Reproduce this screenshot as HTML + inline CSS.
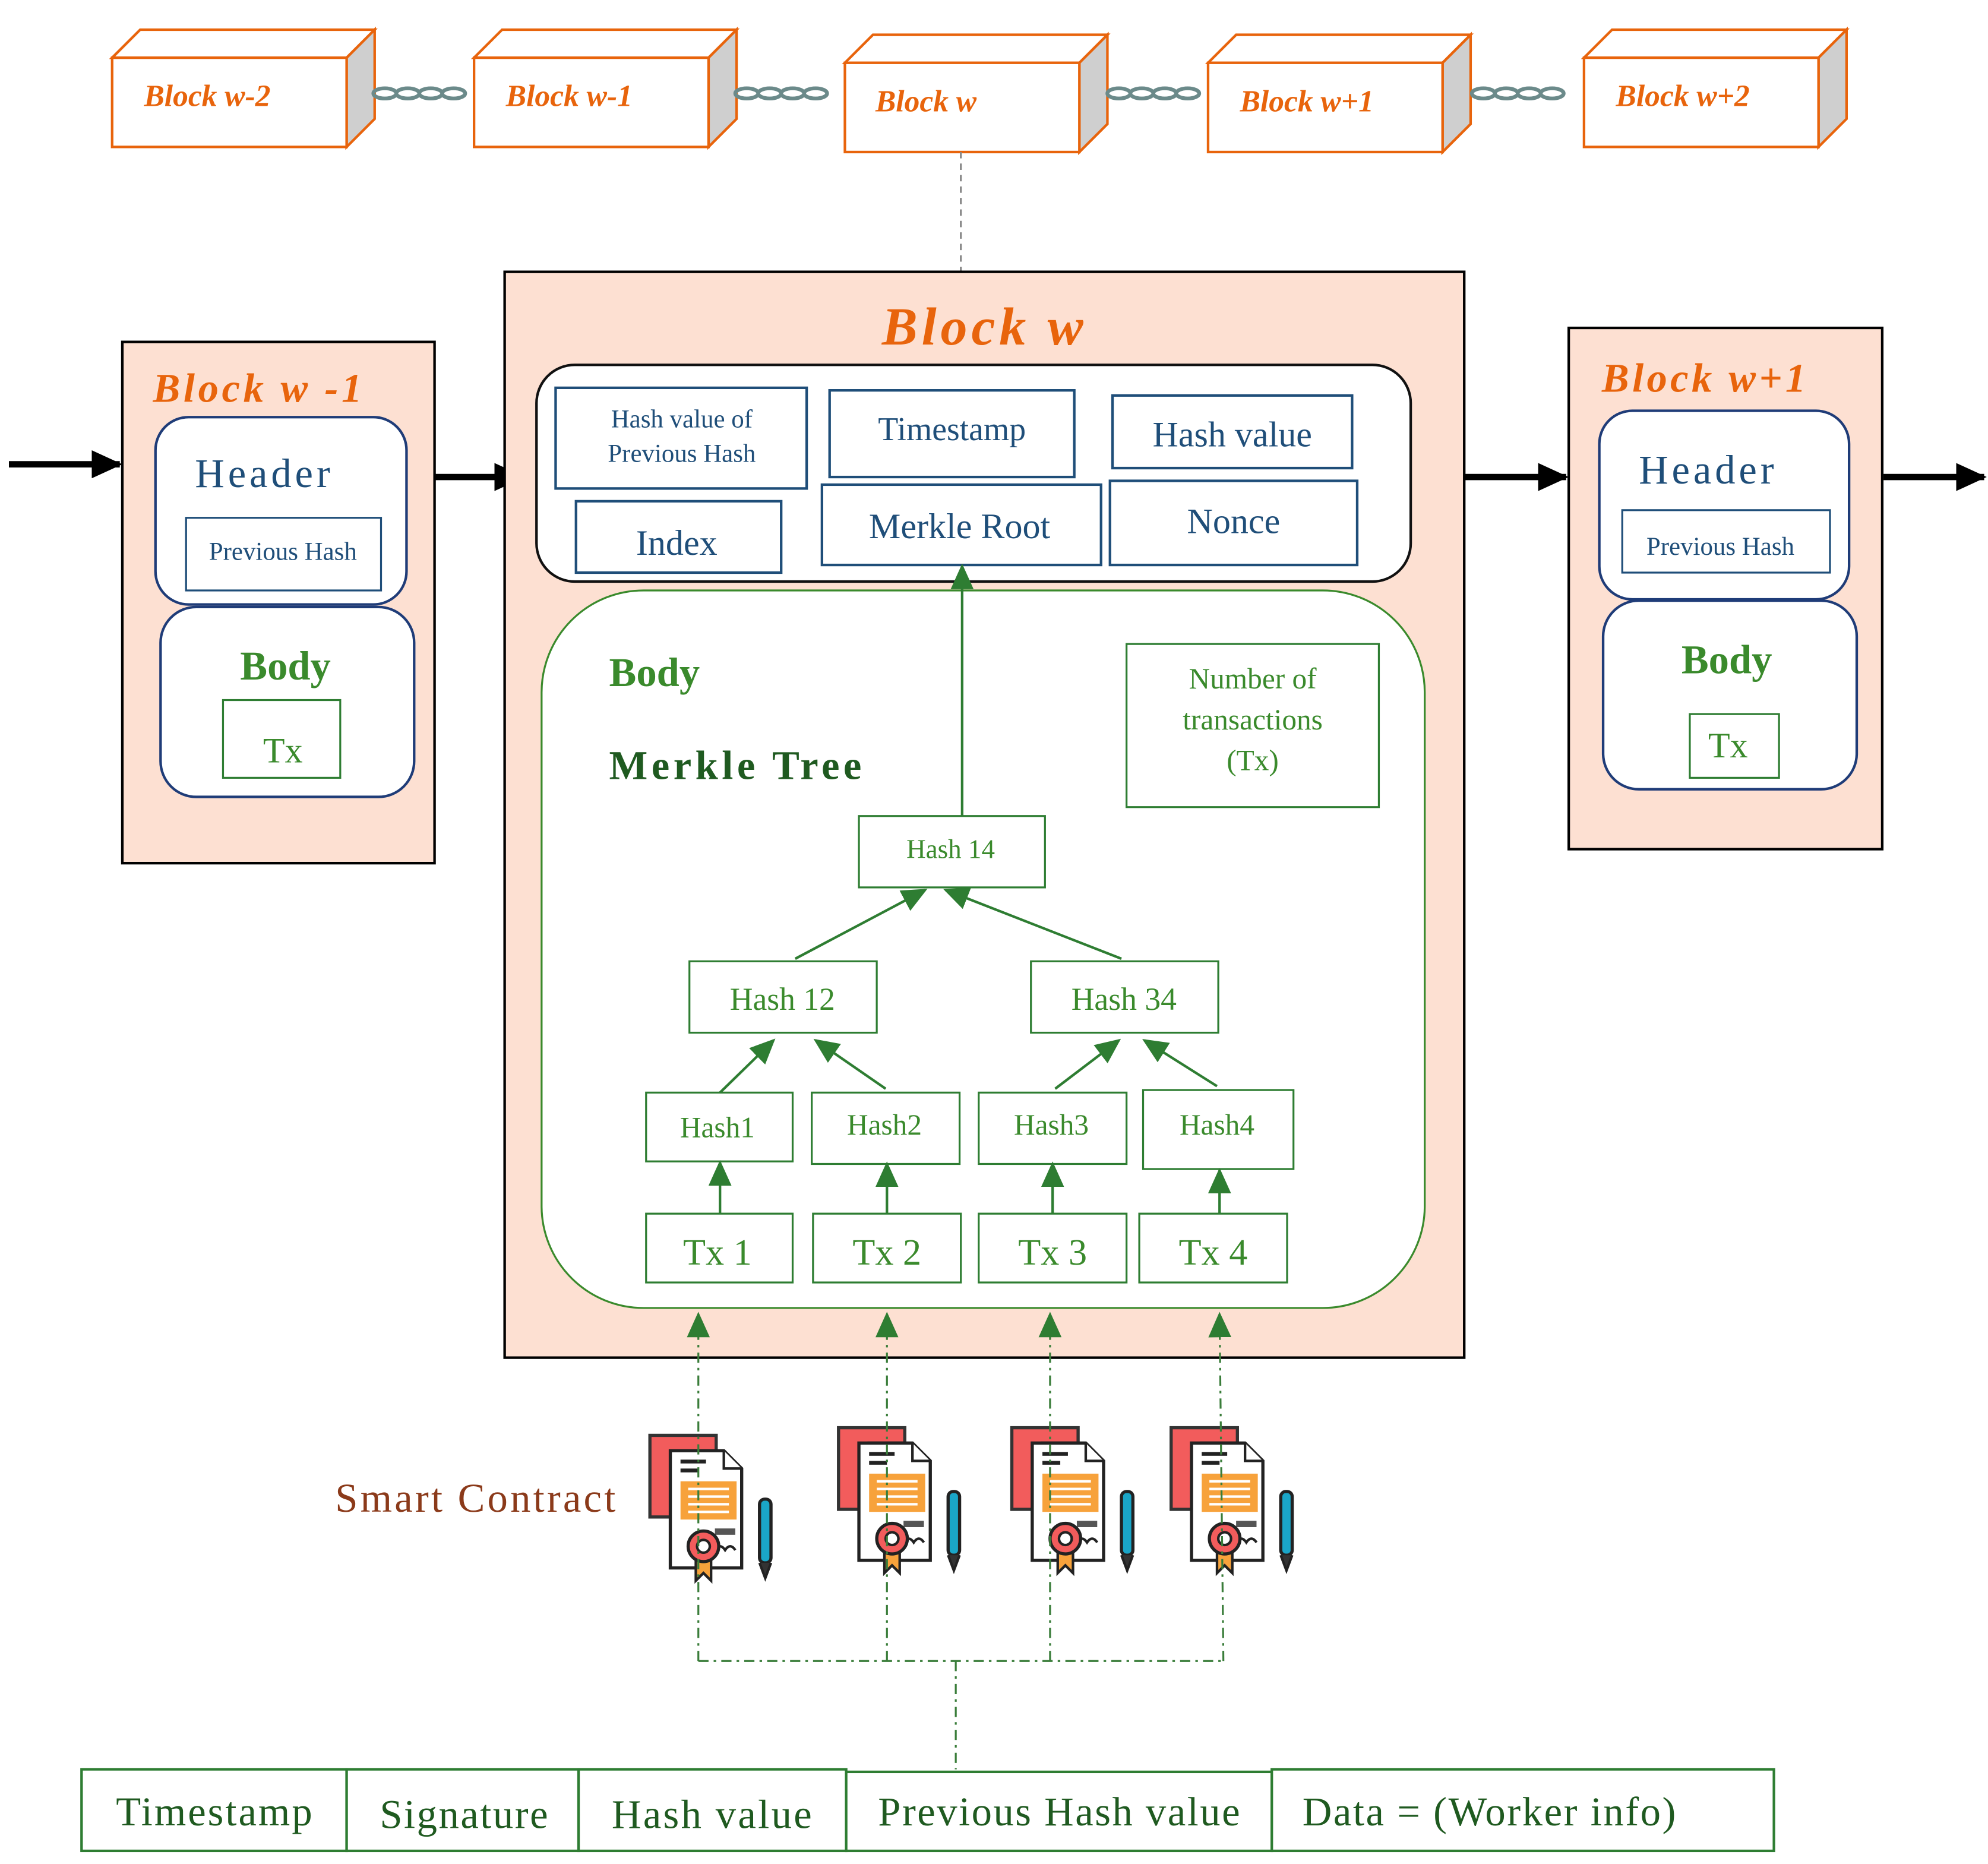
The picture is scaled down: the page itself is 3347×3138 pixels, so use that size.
<!DOCTYPE html>
<html><head><meta charset="utf-8"><style>html,body{margin:0;padding:0;background:#fff}svg{display:block}</style></head>
<body>
<svg width="3347" height="3138" viewBox="0 0 1560 1462" xmlns="http://www.w3.org/2000/svg" font-family="Liberation Serif, serif">
<defs>
<marker id="ag" markerWidth="20" markerHeight="18" refX="18" refY="9" orient="auto" markerUnits="userSpaceOnUse"><path d="M0,0 L20,9 L0,18 z" fill="#2e7d32"/></marker>
<marker id="ak" markerWidth="24" markerHeight="22" refX="22" refY="11" orient="auto" markerUnits="userSpaceOnUse"><path d="M0,0 L24,11 L0,22 z" fill="#000"/></marker>
<g id="blk">
<path d="M0,22 L22,0 L206,0 L184,22 z" fill="#fff" stroke="#e8640c" stroke-width="2"/>
<path d="M184,22 L206,0 L206,70 L184,92 z" fill="#cfcfcf" stroke="#e8640c" stroke-width="2"/>
<rect x="0" y="22" width="184" height="70" fill="#fff" stroke="#e8640c" stroke-width="2"/>
</g>
<g id="chain" fill="none" stroke="#6b8a8a" stroke-width="3">
<ellipse cx="10" cy="0" rx="9" ry="4"/><ellipse cx="28" cy="0" rx="9" ry="4"/><ellipse cx="46" cy="0" rx="9" ry="4"/><ellipse cx="64" cy="0" rx="9" ry="4"/>
</g>
<g id="ico">
<path d="M4,4 L56,4 L56,16 L28,16 L28,68 L4,68 z" fill="#f25c5c" stroke="#333" stroke-width="2.5"/>
<path d="M20,16 L62,16 L76,30 L76,108 L20,108 z" fill="#fff" stroke="#222" stroke-width="2.5"/>
<path d="M62,16 L62,30 L76,30" fill="#fff" stroke="#222" stroke-width="2"/>
<rect x="28" y="23" width="20" height="3" fill="#222"/><rect x="28" y="30" width="14" height="3" fill="#222"/>
<rect x="28" y="40" width="44" height="30" fill="#f7a23b"/>
<g stroke="#fff" stroke-width="2"><line x1="34" y1="46" x2="66" y2="46"/><line x1="34" y1="52" x2="66" y2="52"/><line x1="34" y1="58" x2="66" y2="58"/><line x1="34" y1="64" x2="66" y2="64"/></g>
<rect x="55" y="77" width="16" height="5" fill="#555"/><path d="M55,94 q4,-6 8,0 q4,-6 8,0" fill="none" stroke="#222" stroke-width="2"/>
<path d="M40,100 L40,118 L46,112 L52,118 L52,100 z" fill="#f7a23b" stroke="#222" stroke-width="2"/>
<circle cx="46" cy="91" r="12" fill="#f25c5c" stroke="#222" stroke-width="2.5"/><circle cx="46" cy="91" r="5" fill="#fff" stroke="#222" stroke-width="2"/>
<rect x="90" y="54" width="9" height="50" rx="4" fill="#1aa6c8" stroke="#222" stroke-width="2.5"/>
<path d="M90,104 L94.5,116 L99,104" fill="#333" stroke="#222" stroke-width="2"/>
</g>
</defs>

<use href="#blk" x="88" y="23"/>
<use href="#blk" x="372" y="23"/>
<use href="#blk" x="663" y="27"/>
<use href="#blk" x="948" y="27"/>
<use href="#blk" x="1243" y="23"/>
<use href="#chain" x="292" y="73"/>
<use href="#chain" x="576" y="73"/>
<use href="#chain" x="868" y="73"/>
<use href="#chain" x="1154" y="73"/>
<g fill="#e8640c" font-style="italic" font-weight="bold" font-size="24">
<text x="113" y="83">Block w-2</text><text x="397" y="83">Block w-1</text><text x="687" y="87">Block w</text><text x="973" y="87">Block w+1</text><text x="1268" y="83">Block w+2</text>
</g>
<line x1="754" y1="119" x2="754" y2="212" stroke="#888" stroke-width="1.5" stroke-dasharray="5,4"/>

<g stroke="#000" stroke-width="5">
<line x1="7" y1="364" x2="94" y2="364" marker-end="url(#ak)"/>
<line x1="341" y1="374" x2="410" y2="374" marker-end="url(#ak)"/>
<line x1="1107" y1="374" x2="1229" y2="374" marker-end="url(#ak)"/>
<line x1="1478" y1="374" x2="1557" y2="374" marker-end="url(#ak)"/>
</g>

<rect x="96" y="268" width="245" height="409" fill="#fde0d2" stroke="#000" stroke-width="2"/>
<text x="120" y="315" fill="#e8640c" font-style="italic" font-weight="bold" font-size="32" textLength="164">Block w -1</text>
<rect x="122" y="327" width="197" height="147" rx="26" fill="#fff" stroke="#1f3c78" stroke-width="2"/>
<text x="153" y="382" fill="#1f4e79" font-size="32" textLength="106">Header</text>
<rect x="146" y="406" width="153" height="57" fill="#fff" stroke="#1f4e79" stroke-width="1.5"/>
<text x="222" y="439" fill="#1f4e79" font-size="20" text-anchor="middle">Previous Hash</text>
<rect x="126" y="476" width="199" height="149" rx="28" fill="#fff" stroke="#1f3c78" stroke-width="2"/>
<text x="224" y="533" fill="#3a8a2c" font-weight="bold" font-size="32" text-anchor="middle">Body</text>
<rect x="175" y="549" width="92" height="61" fill="#fff" stroke="#2e7d32" stroke-width="1.5"/>
<text x="222" y="598" fill="#3a8a2c" font-size="28" text-anchor="middle">Tx</text>

<rect x="1231" y="257" width="246" height="409" fill="#fde0d2" stroke="#000" stroke-width="2"/>
<text x="1257" y="307" fill="#e8640c" font-style="italic" font-weight="bold" font-size="32" textLength="160">Block w+1</text>
<rect x="1255" y="322" width="196" height="148" rx="26" fill="#fff" stroke="#1f3c78" stroke-width="2"/>
<text x="1286" y="379" fill="#1f4e79" font-size="32" textLength="106">Header</text>
<rect x="1273" y="400" width="163" height="49" fill="#fff" stroke="#1f4e79" stroke-width="1.5"/>
<text x="1350" y="435" fill="#1f4e79" font-size="20" text-anchor="middle">Previous Hash</text>
<rect x="1258" y="471" width="199" height="148" rx="28" fill="#fff" stroke="#1f3c78" stroke-width="2"/>
<text x="1355" y="528" fill="#3a8a2c" font-weight="bold" font-size="32" text-anchor="middle">Body</text>
<rect x="1326" y="560" width="70" height="50" fill="#fff" stroke="#2e7d32" stroke-width="1.5"/>
<text x="1356" y="594" fill="#3a8a2c" font-size="28" text-anchor="middle">Tx</text>

<rect x="396" y="213" width="753" height="852" fill="#fde0d2" stroke="#000" stroke-width="2"/>
<text x="692" y="270" fill="#e8640c" font-style="italic" font-weight="bold" font-size="42" textLength="158">Block w</text>
<rect x="421" y="286" width="686" height="170" rx="30" fill="#fff" stroke="#111" stroke-width="2"/>
<g fill="#fff" stroke="#1f4e79" stroke-width="2">
<rect x="436" y="304" width="197" height="79"/><rect x="651" y="306" width="192" height="68"/><rect x="873" y="310" width="188" height="57"/>
<rect x="452" y="393" width="161" height="56"/><rect x="645" y="380" width="219" height="63"/><rect x="871" y="377" width="194" height="66"/>
</g>
<g fill="#1f4e79" text-anchor="middle">
<text x="535" y="335" font-size="20">Hash value of</text><text x="535" y="362" font-size="20">Previous Hash</text>
<text x="747" y="345" font-size="26">Timestamp</text><text x="967" y="350" font-size="28">Hash value</text>
<text x="531" y="435" font-size="28">Index</text><text x="753" y="422" font-size="28">Merkle Root</text><text x="968" y="418" font-size="28">Nonce</text>
</g>
<rect x="425" y="463" width="693" height="563" rx="80" fill="#fff" stroke="#3a8a2c" stroke-width="1.5"/>
<text x="478" y="538" fill="#3a8a2c" font-weight="bold" font-size="32">Body</text>
<text x="478" y="611" fill="#1f5a20" font-weight="bold" font-size="32" textLength="198">Merkle Tree</text>
<g fill="#fff" stroke="#2e7d32" stroke-width="1.5">
<rect x="884" y="505" width="198" height="128"/>
<rect x="674" y="640" width="146" height="56"/>
<rect x="541" y="754" width="147" height="56"/><rect x="809" y="754" width="147" height="56"/>
<rect x="507" y="857" width="115" height="54"/><rect x="637" y="857" width="116" height="56"/><rect x="768" y="857" width="116" height="56"/><rect x="897" y="855" width="118" height="62"/>
<rect x="507" y="952" width="115" height="54"/><rect x="638" y="952" width="116" height="54"/><rect x="768" y="952" width="116" height="54"/><rect x="894" y="952" width="116" height="54"/>
</g>
<g fill="#3a8a2c" text-anchor="middle">
<text x="983" y="540" font-size="23">Number of</text><text x="983" y="572" font-size="23">transactions</text><text x="983" y="604" font-size="23">(Tx)</text>
<text x="746" y="673" font-size="21">Hash 14</text>
<text x="614" y="792" font-size="25">Hash 12</text><text x="882" y="792" font-size="25">Hash 34</text>
<text x="563" y="892" font-size="23">Hash1</text><text x="694" y="890" font-size="23">Hash2</text><text x="825" y="890" font-size="23">Hash3</text><text x="955" y="890" font-size="23">Hash4</text>
<text x="563" y="992" font-size="29">Tx 1</text><text x="696" y="992" font-size="29">Tx 2</text><text x="826" y="992" font-size="29">Tx 3</text><text x="952" y="992" font-size="29">Tx 4</text>
</g>
<g stroke="#2e7d32" stroke-width="2" fill="none">
<line x1="755" y1="640" x2="755" y2="444" marker-end="url(#ag)"/>
<line x1="624" y1="752" x2="726" y2="698" marker-end="url(#ag)"/>
<line x1="880" y1="752" x2="742" y2="698" marker-end="url(#ag)"/>
<line x1="565" y1="857" x2="607" y2="816" marker-end="url(#ag)"/>
<line x1="695" y1="854" x2="640" y2="816" marker-end="url(#ag)"/>
<line x1="828" y1="854" x2="878" y2="816" marker-end="url(#ag)"/>
<line x1="955" y1="852" x2="898" y2="816" marker-end="url(#ag)"/>
<line x1="565" y1="952" x2="565" y2="912" marker-end="url(#ag)"/>
<line x1="696" y1="952" x2="696" y2="913" marker-end="url(#ag)"/>
<line x1="826" y1="952" x2="826" y2="913" marker-end="url(#ag)"/>
<line x1="957" y1="952" x2="957" y2="918" marker-end="url(#ag)"/>
</g>

<text x="263" y="1186" fill="#8b3a1a" font-size="32" textLength="220">Smart Contract</text>
<use href="#ico" x="506" y="1122"/>
<use href="#ico" x="654" y="1116"/>
<use href="#ico" x="790" y="1116"/>
<use href="#ico" x="915" y="1116"/>
<g stroke="#3a7d3a" stroke-width="1.5" fill="none" stroke-dasharray="8,4,2,4">
<line x1="548" y1="1303" x2="548" y2="1031" marker-end="url(#ag)"/>
<line x1="696" y1="1303" x2="696" y2="1031" marker-end="url(#ag)"/>
<line x1="824" y1="1303" x2="824" y2="1031" marker-end="url(#ag)"/>
<line x1="960" y1="1303" x2="957" y2="1031" marker-end="url(#ag)"/>
<line x1="548" y1="1303" x2="962" y2="1303"/>
<line x1="750" y1="1303" x2="750" y2="1388"/>
</g>

<g fill="#fff" stroke="#2e7d32" stroke-width="2">
<rect x="64" y="1388" width="208" height="64"/><rect x="272" y="1388" width="182" height="64"/><rect x="454" y="1388" width="210" height="64"/><rect x="664" y="1390" width="334" height="62"/><rect x="998" y="1388" width="394" height="64"/>
</g>
<g fill="#1f5a20" font-size="32">
<text x="91" y="1432" textLength="154">Timestamp</text><text x="298" y="1434" textLength="132">Signature</text><text x="480" y="1434" textLength="157">Hash value</text><text x="689" y="1432" textLength="284">Previous Hash value</text><text x="1022" y="1432" textLength="293">Data = (Worker info)</text>
</g>
</svg>
</body></html>
